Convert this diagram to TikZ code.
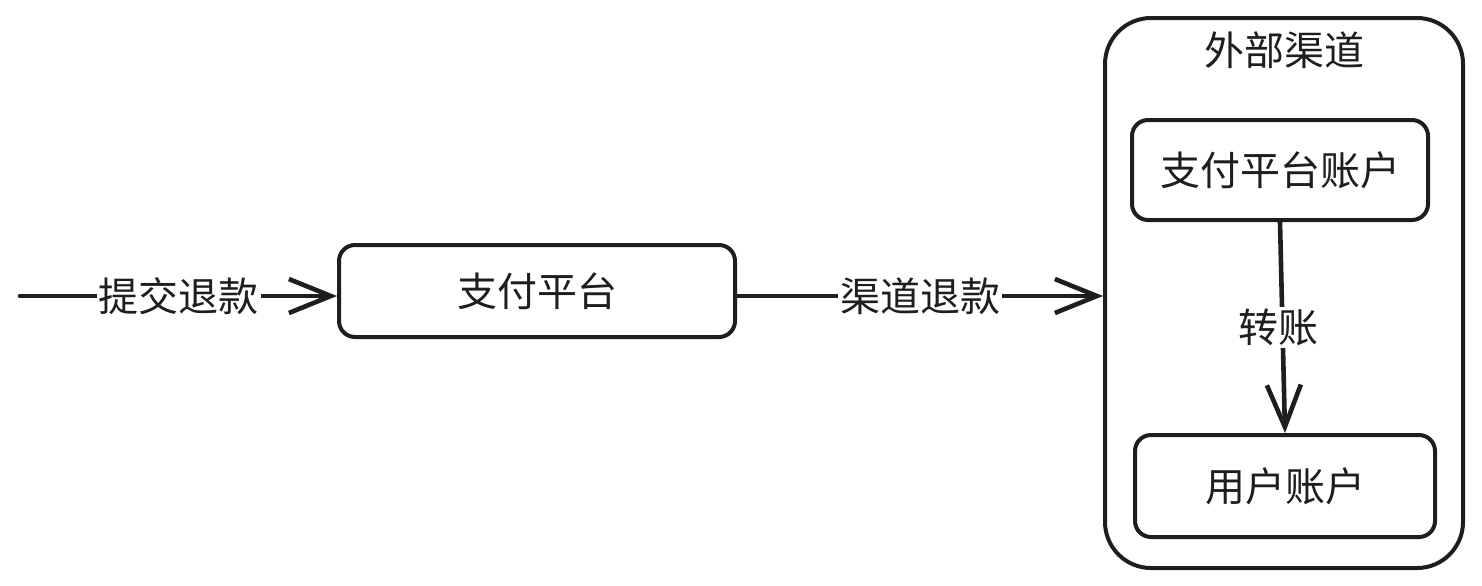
\documentclass[tikz,border=0pt]{standalone}
\usepackage{fontspec}
\setmainfont{Noto Sans CJK SC}
\usetikzlibrary{arrows.meta}
\usetikzlibrary{positioning}

\definecolor{ink}{HTML}{1E1E1E}

\begin{document}
\begin{tikzpicture}[x=0.5pt, y=-0.5pt, line join=round, line cap=round,
    every node/.style={text=ink, font=\fontsize{20pt}{24pt}\selectfont},
    box/.style={draw=ink, line width=2pt, rounded corners=8pt, inner sep=0pt},
    flow/.style={draw=ink, line width=2.3pt, -{Straight Barb[length=21pt, width=17pt, line width=2.3pt]}},
    tag/.style={fill=white, inner sep=1pt}]

        % Fixed canvas
        \useasboundingbox (0, 0) rectangle (1482, 585);

        % Payment platform
        \node[box, minimum width=198pt, minimum height=46pt] (pay) at (537, 291) {支付平台};

        % External channel container
        \node[box, rounded corners=23pt, minimum width=179pt, minimum height=275pt] (chan) at (1284, 293) {};
        \node (chantitle) at (1284, 50) {外部渠道};

        % Accounts inside the channel
        \node[box, minimum width=148pt, minimum height=50pt] (platacct) at (1280, 170) {支付平台账户};
        \node[box, minimum width=150pt, minimum height=51pt] (useracct) at (1285, 486) {用户账户};

        % Incoming request
        \coordinate (start) at (20, 296);
        \draw[flow] (start) -- (pay.west |- start) node[tag, midway, xshift=0pt] {提交退款};

        % Refund to channel
        \draw[flow] (pay.east |- start) -- (chan.west |- start) node[tag, midway] {渠道退款};

        % Transfer between accounts
        \draw[flow] (platacct.south) -- (useracct.north) node[tag, midway, xshift=-2pt] {转账};

      \end{tikzpicture}
\end{document}
